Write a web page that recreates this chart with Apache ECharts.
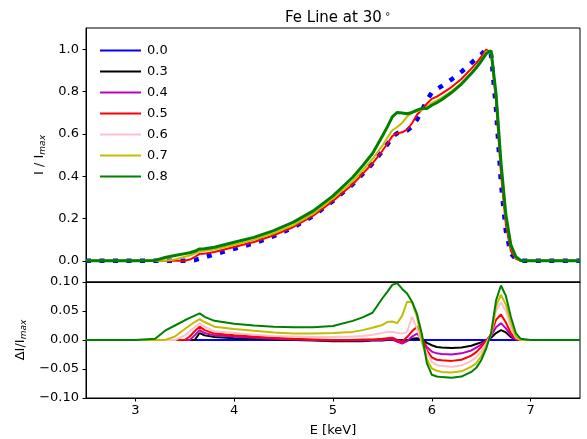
<!DOCTYPE html>
<html><head><meta charset="utf-8">
<script src="https://cdn.jsdelivr.net/npm/echarts@6/dist/echarts.min.js"></script>
<style>html,body{margin:0;padding:0;background:#fff}#c{width:587px;height:439px}</style>
</head><body><div id="c"></div>
<script>
const energies = [2.5,3.0,3.2,3.3,3.4,3.5,3.55,3.6,3.65,3.7,3.8,4.0,4.2,4.4,4.6,4.8,5.0,5.2,5.3,5.4,5.5,5.55,5.6,5.65,5.7,5.75,5.8,5.85,5.9,5.95,6.0,6.05,6.1,6.2,6.3,6.4,6.45,6.5,6.55,6.6,6.65,6.7,6.75,6.8,6.85,6.9,7.0,7.5];
const seriesNames = ['0.0','0.3','0.4','0.5','0.6','0.7','0.8'];
const xTicks = [3,4,5,6,7];
const topTicks = [0,0.2,0.4,0.6,0.8,1.0];

// top panel: I / I_max (series 0.0, 0.5, 0.7, 0.8 are drawn there)
const topNames = ['0.0','0.5','0.7','0.8'];
const top00 = [0,0,0,0,0,0,0,0.003,0.01,0.017,0.031,0.057,0.083,0.117,0.158,0.212,0.283,0.362,0.41,0.46,0.518,0.55,0.585,0.603,0.61,0.615,0.635,0.667,0.71,0.76,0.795,0.81,0.825,0.857,0.893,0.935,0.955,0.975,1.0,0.975,0.72,0.37,0.14,0.035,0.008,0,0,0];
const top05 = [0,0,0,0,0,0,0.006,0.018,0.033,0.034,0.042,0.065,0.089,0.121,0.16,0.213,0.283,0.362,0.411,0.461,0.52,0.553,0.589,0.603,0.607,0.62,0.65,0.69,0.715,0.742,0.765,0.776,0.79,0.821,0.859,0.908,0.934,0.963,0.998,0.985,0.755,0.414,0.17,0.047,0.01,0,0,0];
const top07 = [0,0,0,0,0.006,0.019,0.025,0.034,0.046,0.048,0.054,0.076,0.099,0.13,0.169,0.223,0.295,0.376,0.427,0.481,0.544,0.581,0.617,0.632,0.652,0.681,0.7,0.707,0.712,0.727,0.746,0.757,0.77,0.801,0.839,0.889,0.915,0.947,0.989,0.985,0.778,0.448,0.201,0.065,0.014,0,0,0];
const top08 = [0,0,0.002,0.016,0.025,0.034,0.038,0.045,0.056,0.057,0.064,0.088,0.111,0.143,0.183,0.236,0.307,0.395,0.449,0.507,0.59,0.633,0.68,0.701,0.698,0.695,0.701,0.712,0.72,0.72,0.735,0.747,0.761,0.795,0.835,0.885,0.912,0.943,0.978,0.993,0.79,0.465,0.216,0.075,0.02,0.002,0,0];

// bottom panel: ΔI / I_max
const d00 = [0,0,0,0,0,0,0,0,0,0,0,0,0,0,0,0,0,0,0,0,0,0,0,0,0,0,0,0,0,0,0,0,0,0,0,0,0,0,0,0,0,0,0,0,0,0,0,0];
const d03 = [0,0,0,0,0,0,0,0,0.012,0.008,0.005,0.003,0.002,0.001,0,-0.001,-0.002,-0.002,-0.002,-0.001,-0.001,0,0,-0.001,-0.002,-0.001,0.002,0.003,0.001,-0.005,-0.009,-0.012,-0.013,-0.014,-0.013,-0.01,-0.007,-0.004,-0.001,0.004,0.012,0.017,0.013,0.005,0.001,0,0,0];
const d04 = [0,0,0,0,0,0,0,0.008,0.017,0.012,0.008,0.006,0.004,0.002,0.001,0,-0.001,-0.001,-0.001,0,0,0.001,0.001,-0.003,-0.006,-0.002,0.006,0.011,0.002,-0.012,-0.02,-0.023,-0.024,-0.025,-0.023,-0.018,-0.013,-0.008,-0.001,0.007,0.022,0.029,0.02,0.008,0.001,0,0,0];
const d05 = [0,0,0,0,0,0,0.006,0.015,0.023,0.017,0.011,0.008,0.006,0.004,0.002,0.001,0,0,0.001,0.001,0.002,0.003,0.004,0,-0.003,0.005,0.015,0.023,0.005,-0.018,-0.03,-0.034,-0.035,-0.036,-0.034,-0.027,-0.021,-0.012,-0.002,0.01,0.035,0.044,0.03,0.012,0.002,0,0,0];
const d06 = [0,0,0,0,0,0.008,0.015,0.022,0.029,0.023,0.015,0.012,0.009,0.007,0.006,0.005,0.005,0.006,0.007,0.009,0.012,0.014,0.014,0.012,0.011,0.014,0.04,0.02,-0.005,-0.022,-0.038,-0.043,-0.045,-0.046,-0.044,-0.036,-0.03,-0.02,-0.006,0.01,0.05,0.065,0.05,0.022,0.004,0,0,0];
const d07 = [0,0,0,0,0.006,0.019,0.025,0.031,0.036,0.031,0.023,0.019,0.016,0.013,0.011,0.011,0.012,0.014,0.017,0.021,0.026,0.031,0.032,0.029,0.042,0.066,0.065,0.04,-0.003,-0.033,-0.049,-0.053,-0.055,-0.056,-0.054,-0.046,-0.04,-0.028,-0.011,0.01,0.058,0.078,0.061,0.03,0.006,0,0,0];
const d08 = [0,0,0.002,0.016,0.025,0.034,0.038,0.042,0.046,0.04,0.033,0.028,0.025,0.023,0.022,0.022,0.024,0.033,0.039,0.047,0.072,0.083,0.095,0.098,0.088,0.08,0.066,0.045,0.01,-0.04,-0.06,-0.063,-0.064,-0.065,-0.063,-0.055,-0.048,-0.035,-0.015,0.012,0.068,0.094,0.076,0.04,0.012,0.002,0,0];

const colors = {'0.0':'#0000ff','0.3':'#000000','0.4':'#bf00bf','0.5':'#ff0000','0.6':'#ffc0cb','0.7':'#bfbf00','0.8':'#008000'};
const topData = [top00, top05, top07, top08];
const botData = [d00, d03, d04, d05, d06, d07, d08];

const FONT = 'DejaVu Sans';
const pairs = arr => arr.map((v, i) => [energies[i], v]);

const series = [];
botData.forEach((arr, k) => {
  const nm = seriesNames[k];
  series.push({
    name: nm, type: 'line', xAxisIndex: 1, yAxisIndex: 1,
    data: pairs(arr), showSymbol: false, symbol: 'none', color: colors[nm],
    lineStyle: {color: colors[nm], width: 2},
    z: 2 + k
  });
});
topData.forEach((arr, k) => {
  const nm = topNames[k];
  series.push({
    name: nm, type: 'line', xAxisIndex: 0, yAxisIndex: 0,
    data: pairs(arr), showSymbol: false, symbol: 'none', color: colors[nm],
    lineStyle: k === 0 ? {color: colors[nm], width: 4.5, type: [5, 8.5], cap: 'butt'}
                       : {color: colors[nm], width: nm === '0.8' ? 3 : 2},
    z: 2 + k
  });
});

const axisCommon = {
  axisLine: {show: true, onZero: false, lineStyle: {color: '#000', width: 1}},
  axisTick: {show: true, inside: false, length: 3.5, lineStyle: {color: '#000', width: 1}},
  splitLine: {show: false}
};
const minus = v => (v < 0 ? '\u2212' : '') + Math.abs(v).toFixed(2);

const chart = echarts.init(document.getElementById('c'), null, {renderer: 'canvas'});
chart.setOption({
  animation: false,
  backgroundColor: '#fff',
  title: {
    text: '{a|Fe Line at 30}{b|\u2218}',
    left: 333, top: 4, textAlign: 'center',
    textStyle: {fontWeight: 'normal', rich: {
      a: {fontFamily: FONT, fontSize: 15, fontWeight: 'normal', color: '#000'},
      b: {fontFamily: FONT, fontSize: 10, fontWeight: 'normal', color: '#000', padding: [0, 0, 9, 3]}
    }}
  },
  legend: {
    orient: 'vertical', left: 95, top: 39, icon: 'rect',
    itemWidth: 41, itemHeight: 2, itemGap: 8, selectedMode: false,
    data: seriesNames,
    textStyle: {fontFamily: FONT, fontSize: 13, lineHeight: 13, color: '#000', padding: [0, 0, 0, 1]}
  },
  grid: [
    {left: 86, right: 7, top: 28, height: 254, show: true, borderColor: '#000', borderWidth: 1, containLabel: false},
    {left: 86, right: 7, top: 282, height: 116, show: true, borderColor: '#000', borderWidth: 1, containLabel: false}
  ],
  xAxis: [
    Object.assign({}, axisCommon, {gridIndex: 0, type: 'value', min: 2.5, max: 7.5,
      axisTick: {show: false}, axisLabel: {show: false}}),
    Object.assign({}, axisCommon, {gridIndex: 1, type: 'value', min: 2.5, max: 7.5,
      axisTick: {show: true, inside: false, length: 3.5, customValues: xTicks, lineStyle: {color: '#000'}},
      axisLabel: {customValues: xTicks, margin: 6, fontFamily: FONT, fontSize: 13, color: '#000', formatter: v => String(v)},
      name: 'E [keV]', nameLocation: 'middle', nameGap: 26,
      nameTextStyle: {fontFamily: FONT, fontSize: 13, color: '#000'}})
  ],
  yAxis: [
    Object.assign({}, axisCommon, {gridIndex: 0, type: 'value', min: -0.1, max: 1.1,
      axisTick: {show: true, inside: false, length: 3.5, customValues: topTicks, lineStyle: {color: '#000'}},
      axisLabel: {customValues: topTicks, margin: 7, fontFamily: FONT, fontSize: 13, color: '#000', formatter: v => v.toFixed(1)},
      name: '{a|I / I}{s|max}', nameLocation: 'middle', nameGap: 34, nameRotate: 90,
      nameTextStyle: {rich: {
        a: {fontFamily: FONT, fontSize: 13, color: '#000'},
        s: {fontFamily: FONT, fontSize: 9, fontStyle: 'italic', color: '#000', padding: [7, 0, 0, 0]}
      }}}),
    Object.assign({}, axisCommon, {gridIndex: 1, type: 'value', min: -0.1, max: 0.1, interval: 0.05,
      axisLabel: {margin: 7, fontFamily: FONT, fontSize: 13, color: '#000', formatter: minus},
      name: '{a|\u0394I/I}{s|max}', nameLocation: 'middle', nameGap: 55, nameRotate: 90,
      nameTextStyle: {rich: {
        a: {fontFamily: FONT, fontSize: 13, color: '#000'},
        s: {fontFamily: FONT, fontSize: 9, fontStyle: 'italic', color: '#000', padding: [7, 0, 0, 0]}
      }}})
  ],
  series: series
});
</script>
</body></html>
